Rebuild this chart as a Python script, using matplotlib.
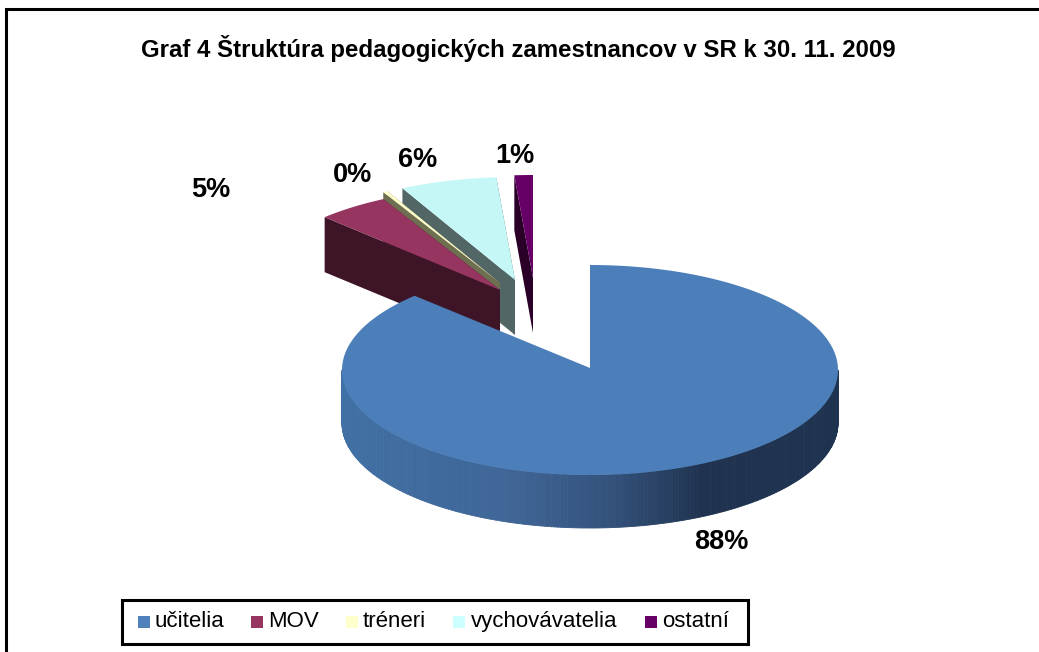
import numpy as np
import matplotlib
matplotlib.use("Agg")
import matplotlib.pyplot as plt
from matplotlib.colors import LinearSegmentedColormap
from matplotlib.collections import PolyCollection
from matplotlib.patches import Polygon, Rectangle

title = "Graf 4 Štruktúra pedagogických zamestnancov v SR k 30. 11. 2009"
categories = ["učitelia", "MOV", "tréneri", "vychovávatelia", "ostatní"]
values = [87.5, 4.7, 0.3, 6.3, 1.2]
labels = ["88%", "5%", "0%", "6%", "1%"]
top_colors = ["#4c7fba", "#953560", "#ffffcc", "#c6f7f7", "#660066"]
cut_colors = ["#3a5f8c", "#3d1526", "#6e6e50", "#526666", "#2a0029"]
swatch_colors = ["#4f81bd", "#953560", "#ffffcc", "#ccffff", "#660066"]

W, H = 1039, 652
RX, RY, DEPTH = 248, 103, 55
MAIN_RY, MAIN_DEPTH = 105, 53
main_center = (590, 370)
apex = [(590, 368), (500, 290), (500, 283), (515, 280), (533, 278)]
label_pos = [(721, 542), (211, 190), (353, 175), (418, 160), (515, 156)]
swatch_x = [138, 251, 346, 453, 645]
text_x = [155, 268, 363, 471, 662]

plt.rcParams["font.family"] = ["Liberation Sans", "DejaVu Sans"]
fig = plt.figure(figsize=(W / 100, H / 100), dpi=100, facecolor="white")
ax = fig.add_axes([0, 0, 1, 1])
ax.set_xlim(0, W)
ax.set_ylim(H, 0)
ax.axis("off")

# frame: only the top and left edges show in the crop
ax.plot([6, 6, W], [H, 9, 9], color="black", lw=2.2, solid_joinstyle="miter", zorder=1)


def rim(c, a, ry=RY):
    a = np.radians(a)
    return c[0] + RX * np.sin(a), c[1] - ry * np.cos(a)


edges = np.concatenate([[0], np.cumsum(values)]) * 3.6
z = 10
# small slices, far to near
for i in [4, 3, 2, 1]:
    c = apex[i]
    a0, a1 = edges[i], edges[i + 1]
    p0, p1 = rim(c, a0), rim(c, a1)
    for p in (p1, p0):
        ax.add_patch(Polygon([c, p, (p[0], p[1] + DEPTH), (c[0], c[1] + DEPTH)],
                             closed=True, fc=cut_colors[i], ec="none", zorder=z))
    aa = np.linspace(a0, a1, 20)
    xs, ys = rim(c, aa)
    ax.add_patch(Polygon(np.vstack([[c], np.column_stack([xs, ys])]), closed=True,
                         fc=top_colors[i], ec="none", zorder=z + 1))
    z += 2

# main slice
c = main_center
a0, a1 = edges[0], edges[1]
ang = np.linspace(90, 270, 241)
xs, ys = rim(c, ang, MAIN_RY)
side_cmap = LinearSegmentedColormap.from_list(
    "side", [(0, "#4070a5"), (0.35, "#3f6596"), (0.55, "#33517a"), (0.73, "#1f3350"), (1, "#1e3350")])
quads = [[(xs[k], ys[k]), (xs[k + 1], ys[k + 1]),
          (xs[k + 1], ys[k + 1] + MAIN_DEPTH), (xs[k], ys[k] + MAIN_DEPTH)]
         for k in range(len(ang) - 1)]
cols = side_cmap((np.array([q[0][0] for q in quads]) - (c[0] - RX)) / (2 * RX))
ax.add_collection(PolyCollection(quads, facecolors=cols, edgecolors=cols, linewidths=0.6, zorder=z))
aa = np.linspace(a0, a1, 360)
xs, ys = rim(c, aa, MAIN_RY)
ax.add_patch(Polygon(np.vstack([[apex[0]], np.column_stack([xs, ys])]), closed=True,
                     fc=top_colors[0], ec="none", zorder=z + 1))

ax.text(518, 57, title, ha="center", va="baseline", fontsize=17.25, fontweight="bold", zorder=50)
for (x, y), t in zip(label_pos, labels):
    ax.text(x, y, t, ha="center", va="center", fontsize=19.5, fontweight="bold", zorder=50)

# legend
ax.add_patch(Rectangle((122, 600), 626, 43.5, fc="white", ec="black", lw=2.2, zorder=40))
for x, tx, col, name in zip(swatch_x, text_x, swatch_colors, categories):
    ax.add_patch(Rectangle((x, 616), 12, 12, fc=col, ec="none", zorder=41))
    ax.text(tx, 621.5, name, ha="left", va="center", fontsize=16, zorder=42)

fig.savefig("out.png", dpi=100)
